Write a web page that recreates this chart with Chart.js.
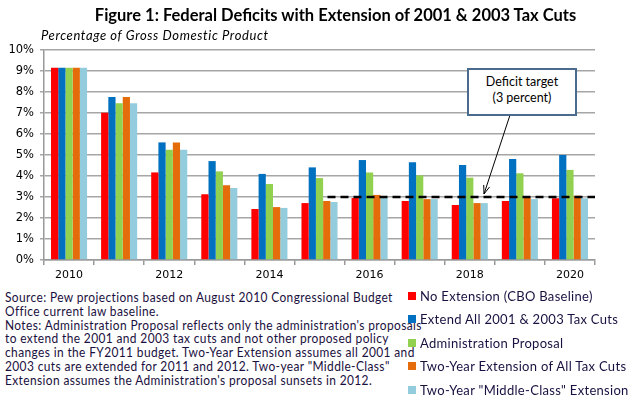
<!DOCTYPE html>
<html>
<head>
<meta charset="utf-8">
<script src="https://cdn.jsdelivr.net/npm/chart.js@4/dist/chart.umd.min.js"></script>
<style>
  html, body { margin:0; padding:0; background:#fff; }
  #wrap { position:relative; width:639px; height:397px; overflow:hidden; }
  #title { position:absolute; left:0; width:671px; top:5px; text-align:center; font-family:Lato, sans-serif; font-weight:bold; font-size:16.5px; letter-spacing:0px; color:#000; white-space:nowrap; }
  #subtitle { position:absolute; left:41px; top:27px; font-family:Lato, sans-serif; font-style:italic; font-size:13px; letter-spacing:0.6px; color:#000; white-space:nowrap; }
  #cv { position:absolute; left:0; top:0; }
  #notes { position:absolute; left:5px; top:291px; font-family:Lato, sans-serif; font-size:12.5px; letter-spacing:0.4px; line-height:13.8px; color:#1a1040; white-space:nowrap; transform:scaleX(0.955); transform-origin:0 0; }
  #legend { position:absolute; left:408px; top:284px; font-family:Lato, sans-serif; font-size:13px; letter-spacing:0.3px; color:#1a1040; }
  #legend .it { height:23.5px; display:flex; align-items:center; white-space:nowrap; }
  #legend .sw { width:8px; height:8px; margin-right:4px; display:inline-block; }
  #box { position:absolute; left:467px; top:68px; width:106px; height:40px; border:2px solid #4a6a8e; background:#fff; font-family:Lato, sans-serif; font-size:12.5px; line-height:16px; text-align:center; color:#000; padding-top:4px; box-sizing:content-box; }
</style>
</head>
<body>
<div id="wrap">
  <canvas id="cv" width="639" height="290"></canvas>
  <div id="title">Figure 1: Federal Deficits with Extension of 2001 &amp; 2003 Tax Cuts</div>
  <div id="subtitle">Percentage of Gross Domestic Product</div>
  <div id="notes">Source:&nbsp;Pew projections based on August 2010 Congressional Budget<br>Office current law baseline.<br>Notes: Administration Proposal reflects only the administration's proposals<br>to extend the 2001 and 2003 tax cuts and not other proposed policy<br>changes in the FY2011 budget. Two-Year Extension assumes all 2001 and<br>2003 cuts are extended for 2011 and 2012. Two-year "Middle-Class"<br>Extension assumes the Administration's proposal sunsets in 2012.</div>
  <div id="legend"></div>
  <div id="box">Deficit target<br>(3 percent)</div>
</div>
<script>
const years = ['2010','2011','2012','2013','2014','2015','2016','2017','2018','2019','2020'];
const seriesNames = [
  'No Extension (CBO Baseline)',
  'Extend All 2001  & 2003 Tax Cuts',
  'Administration Proposal',
  'Two-Year Extension of All Tax Cuts',
  'Two-Year "Middle-Class" Extension'
];
const noExtension      = [9.15, 7.01, 4.17, 3.13, 2.43, 2.71, 2.95, 2.81, 2.62, 2.81, 2.94];
const extendAll        = [9.15, 7.76, 5.60, 4.71, 4.10, 4.41, 4.76, 4.65, 4.52, 4.81, 5.00];
const adminProposal    = [9.15, 7.46, 5.25, 4.22, 3.62, 3.90, 4.17, 4.03, 3.92, 4.13, 4.29];
const twoYearAll       = [9.15, 7.76, 5.60, 3.56, 2.52, 2.81, 3.10, 2.90, 2.71, 2.97, 3.06];
const twoYearMiddle    = [9.15, 7.46, 5.25, 3.43, 2.48, 2.76, 3.02, 2.90, 2.71, 2.90, 2.94];
const yTicks = [0,1,2,3,4,5,6,7,8,9,10];
const deficitTarget = 3;
const targetStartIndex = 5;

const colors = ['#FF0000', '#0070C0', '#92D050', '#E46C0A', '#93CDDD'];
const values = [noExtension, extendAll, adminProposal, twoYearAll, twoYearMiddle];

const datasets = values.map((v, i) => ({
  label: seriesNames[i],
  data: v,
  backgroundColor: colors[i],
  borderWidth: 0,
  categoryPercentage: 0.72,
  barPercentage: 1.0
}));

// legend
const lg = document.getElementById('legend');
seriesNames.forEach((n, i) => {
  const d = document.createElement('div');
  d.className = 'it';
  const s = document.createElement('span');
  s.className = 'sw';
  s.style.background = colors[i];
  d.appendChild(s);
  d.appendChild(document.createTextNode(n));
  lg.appendChild(d);
});

const targetPlugin = {
  id: 'target',
  afterDatasetsDraw(chart) {
    const ctx = chart.ctx;
    const x = chart.scales.x, y = chart.scales.y;
    const yy = y.getPixelForValue(deficitTarget);
    const x0 = x.getPixelForValue(targetStartIndex) + 8;
    const x1 = chart.chartArea.right;
    ctx.save();
    ctx.strokeStyle = '#000';
    ctx.lineWidth = 2.5;
    ctx.setLineDash([8, 5]);
    ctx.beginPath();
    ctx.moveTo(x0, yy);
    ctx.lineTo(x1, yy);
    ctx.stroke();
    // arrow
    ctx.setLineDash([]);
    ctx.lineWidth = 1;
    const ax = 511, ay = 112;
    const bx = 484, by = yy - 3;
    ctx.beginPath();
    ctx.moveTo(ax, ay);
    ctx.lineTo(bx, by);
    ctx.stroke();
    const ang = Math.atan2(by - ay, bx - ax);
    const L = 9, W = 0.35;
    ctx.beginPath();
    ctx.moveTo(bx - L * Math.cos(ang - W), by - L * Math.sin(ang - W));
    ctx.lineTo(bx, by);
    ctx.lineTo(bx - L * Math.cos(ang + W), by - L * Math.sin(ang + W));
    ctx.stroke();
    ctx.restore();
  }
};

new Chart(document.getElementById('cv'), {
  type: 'bar',
  data: { labels: years, datasets },
  options: {
    responsive: false,
    animation: false,
    devicePixelRatio: 1,
    layout: { padding: { top: 50, right: 44, left: 0, bottom: 0 } },
    plugins: { legend: { display: false }, tooltip: { enabled: false }, title: { display: false } },
    scales: {
      x: {
        grid: { drawOnChartArea: false, offset: true, tickLength: 5, color: '#999', lineWidth: 1.5 },
        border: { color: '#999', width: 1.5 },
        ticks: {
          autoSkip: false, maxRotation: 0, padding: 4, color: '#000',
          font: { family: 'DejaVu Sans', size: 11 },
          callback: (v, i) => (i % 2 === 0 ? years[i] : '')
        },
        afterFit: s => { s.height = 30; }
      },
      y: {
        min: 0, max: 10,
        afterBuildTicks: s => { s.ticks = yTicks.map(v => ({ value: v })); },
        grid: { color: '#a6a6a6', lineWidth: 1.5, tickLength: 4 },
        border: { color: '#999', width: 1.5 },
        ticks: {
          padding: 6, color: '#000',
          font: { family: 'DejaVu Sans', size: 11.5 },
          callback: v => v + '%'
        },
        afterFit: s => { s.width = 44; }
      }
    }
  },
  plugins: [targetPlugin]
});
</script>
</body>
</html>
